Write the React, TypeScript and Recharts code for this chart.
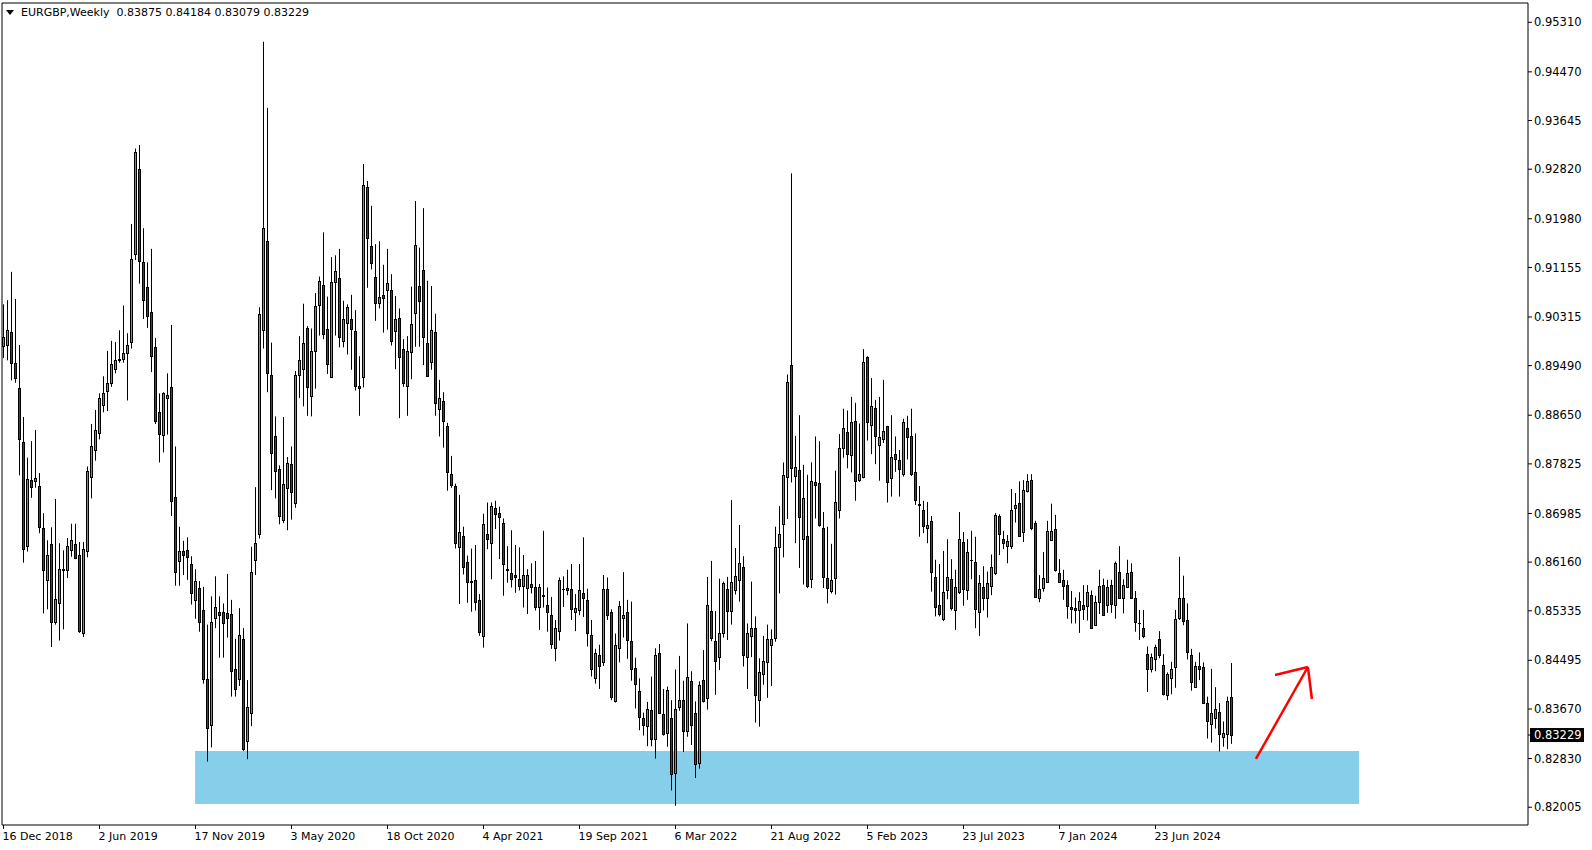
import React from 'react';
import { ComposedChart, Bar, XAxis, YAxis, ReferenceArea, ReferenceLine } from 'recharts';

// EURGBP weekly candles (16 Dec 2018 .. early Nov 2024)
const opens = [
  .8982, .8984, .9006, .8953, .8911, .8820, .8644, .8756, .8753, .8745,
  .8674, .8586, .8647, .8515, .8546, .8605, .8602, .8637, .8647, .8628,
  .8496, .8635, .8760, .8806, .8835, .8882, .8906, .8920, .8943, .8958,
  .8960, .8971, .8989, .9139, .9282, .9125, .9082, .9040, .8981, .8870,
  .8832, .8895, .8912, .8726, .8618, .8635, .8636, .8612, .8552, .8572,
  .8534, .8418, .8340, .8521, .8532, .8531, .8529, .8528, .8434, .8418,
  .8486, .8312, .8361, .8620, .8664, .9010, .9160, .8934, .8830, .8774,
  .8688, .8742, .8782, .8716, .8934, .8944, .9013, .8897, .8973, .9051,
  .9086, .9011, .8930, .9090, .9097, .8990, .9021, .9028, .9008, .8914,
  .8929, .9251, .9151, .9099, .9055, .9068, .9078, .9078, .9007, .9029,
  .8977, .8915, .8972, .9038, .9084, .9111, .8987, .8956, .9006, .8875,
  .8889, .8847, .8765, .8745, .8641, .8660, .8617, .8584, .8586, .8552,
  .8490, .8664, .8649, .8707, .8700, .8682, .8604, .8597, .8594, .8588,
  .8576, .8572, .8579, .8574, .8540, .8560, .8544, .8526, .8471, .8500,
  .8570, .8572, .8570, .8532, .8534, .8563, .8551, .8492, .8420, .8458,
  .8446, .8570, .8532, .8381, .8471, .8522, .8531, .8483, .8436, .8398,
  .8351, .8339, .8366, .8316, .8462, .8359, .8327, .8351, .8259, .8370,
  .8382, .8329, .8415, .8361, .8275, .8417, .8385, .8533, .8482, .8456,
  .8496, .8571, .8533, .8568, .8586, .8607, .8456, .8491, .8505, .8382,
  .8426, .8447, .8476, .8488, .8642, .8680, .8760, .8950, .8762, .8772,
  .8656, .8660, .8587, .8752, .8750, .8674, .8589, .8567, .8589, .8704,
  .8809, .8836, .8797, .8856, .8756, .8760, .8963, .8849, .8878, .8815,
  .8824, .8846, .8758, .8799, .8789, .8765, .8844, .8829, .8769, .8714,
  .8705, .8673, .8686, .8590, .8543, .8520, .8569, .8587, .8534, .8566,
  .8650, .8568, .8620, .8616, .8532, .8573, .8555, .8576, .8597, .8694,
  .8656, .8643, .8644, .8707, .8716, .8667, .8737, .8755, .8682, .8556,
  .8572, .8583, .8653, .8672, .8597, .8585, .8578, .8540, .8538, .8534,
  .8543, .8542, .8560, .8509, .8549, .8578, .8543, .8577, .8543, .8600,
  .8556, .8573, .8600, .8556, .8513, .8505, .8460, .8435, .8451, .8485,
  .8441, .8390, .8419, .8438, .8522, .8555, .8518, .8458, .8405, .8440,
  .8438, .8377, .8341, .8351, .8362, .8320, .8324, .83875,
];

const highs = [
  .9053, .9060, .9108, .9062, .8984, .8862, .8793, .8821, .8840, .8767,
  .8699, .8653, .8675, .8723, .8648, .8636, .8657, .8681, .8681, .8650,
  .8650, .8778, .8850, .8874, .8902, .8931, .8974, .8991, .8989, .9009,
  .9051, .9004, .9189, .9317, .9323, .9182, .9124, .9147, .8996, .8902,
  .8904, .8936, .9018, .8812, .8676, .8652, .8658, .8626, .8604, .8584,
  .8574, .8510, .8558, .8592, .8558, .8546, .8596, .8552, .8486, .8538,
  .8504, .8416, .8642, .8743, .9048, .9498, .9386, .8988, .8863, .8780,
  .8862, .8794, .8812, .8940, .8999, .9054, .9016, .9012, .9072, .9100,
  .9175, .9066, .9133, .9136, .9147, .9059, .9053, .9069, .9043, .8965,
  .9291, .9262, .9220, .9155, .9160, .9120, .9147, .9104, .9067, .9046,
  .8994, .8999, .9083, .9228, .9149, .9216, .9093, .9084, .9037, .8925,
  .8904, .8852, .8796, .8749, .8730, .8676, .8627, .8639, .8645, .8562,
  .8698, .8717, .8717, .8720, .8710, .8690, .8643, .8670, .8645, .8641,
  .8628, .8604, .8614, .8618, .8579, .8669, .8573, .8557, .8518, .8590,
  .8592, .8603, .8613, .8562, .8613, .8658, .8571, .8518, .8469, .8476,
  .8594, .8590, .8536, .8495, .8550, .8599, .8552, .8549, .8454, .8419,
  .8361, .8379, .8422, .8470, .8477, .8401, .8405, .8382, .8434, .8457,
  .8415, .8512, .8431, .8380, .8414, .8467, .8591, .8618, .8533, .8588,
  .8583, .8591, .8721, .8640, .8679, .8626, .8512, .8583, .8524, .8453,
  .8491, .8510, .8502, .8676, .8711, .8785, .8934, .9275, .8830, .8865,
  .8781, .8764, .8785, .8829, .8821, .8701, .8676, .8647, .8771, .8833,
  .8876, .8873, .8896, .8886, .8851, .8977, .8965, .8928, .8891, .8896,
  .8925, .8847, .8865, .8829, .8806, .8859, .8864, .8876, .8834, .8745,
  .8720, .8718, .8694, .8620, .8613, .8635, .8655, .8621, .8603, .8701,
  .8667, .8655, .8669, .8659, .8594, .8609, .8600, .8629, .8699, .8697,
  .8669, .8662, .8740, .8733, .8753, .8755, .8765, .8765, .8686, .8594,
  .8633, .8686, .8715, .8696, .8621, .8603, .8585, .8567, .8556, .8565,
  .8577, .8577, .8568, .8559, .8603, .8588, .8586, .8586, .8617, .8643,
  .8587, .8620, .8614, .8567, .8535, .8535, .8473, .8461, .8476, .8499,
  .8460, .8429, .8447, .8535, .8625, .8593, .8546, .8469, .8447, .8463,
  .8446, .8388, .8435, .8404, .8377, .8346, .8388, .8445,
];

const lows = [
  .8962, .8958, .8924, .8920, .8763, .8615, .8634, .8725, .8742, .8665,
  .8529, .8536, .8472, .8510, .8483, .8502, .8589, .8625, .8621, .8496,
  .8489, .8624, .8724, .8788, .8824, .8870, .8872, .8913, .8936, .8954,
  .8954, .8890, .8978, .9128, .9088, .9028, .9013, .8938, .8850, .8785,
  .8802, .8832, .8694, .8576, .8576, .8594, .8586, .8544, .8520, .8498,
  .8410, .8278, .8302, .8504, .8454, .8454, .8488, .8388, .8388, .8406,
  .8296, .8282, .8338, .8594, .8656, .8978, .8904, .8738, .8724, .8680,
  .8682, .8670, .8688, .8708, .8894, .8880, .8864, .8863, .8910, .9000,
  .8994, .8935, .8928, .9000, .8980, .8980, .8968, .8942, .8907, .8864,
  .8912, .9081, .9112, .9025, .9046, .9005, .9010, .8983, .8943, .8860,
  .8913, .8864, .8926, .8981, .8981, .8950, .8930, .8942, .8864, .8829,
  .8810, .8737, .8742, .8639, .8545, .8595, .8547, .8532, .8534, .8491,
  .8471, .8638, .8587, .8672, .8621, .8559, .8581, .8573, .8564, .8568,
  .8539, .8528, .8563, .8534, .8501, .8539, .8498, .8469, .8448, .8483,
  .8540, .8560, .8518, .8499, .8526, .8523, .8473, .8422, .8410, .8401,
  .8440, .8518, .8382, .8378, .8446, .8488, .8452, .8415, .8368, .8331,
  .8322, .8304, .8304, .8283, .8359, .8322, .8303, .8229, .8203, .8364,
  .8294, .8320, .8306, .8250, .8266, .8378, .8366, .8482, .8391, .8433,
  .8488, .8484, .8510, .8561, .8549, .8439, .8401, .8455, .8344, .8337,
  .8408, .8386, .8406, .8481, .8563, .8624, .8689, .8751, .8648, .8606,
  .8578, .8572, .8572, .8690, .8676, .8572, .8546, .8563, .8561, .8690,
  .8793, .8775, .8768, .8720, .8752, .8758, .8822, .8799, .8782, .8754,
  .8818, .8717, .8727, .8769, .8727, .8761, .8790, .8762, .8713, .8659,
  .8665, .8648, .8566, .8524, .8524, .8516, .8553, .8534, .8501, .8562,
  .8542, .8552, .8587, .8504, .8491, .8534, .8522, .8560, .8594, .8628,
  .8638, .8614, .8638, .8683, .8659, .8650, .8734, .8670, .8555, .8548,
  .8566, .8582, .8652, .8600, .8581, .8552, .8520, .8512, .8512, .8496,
  .8518, .8517, .8503, .8508, .8528, .8525, .8530, .8530, .8520, .8555,
  .8529, .8572, .8554, .8498, .8484, .8487, .8396, .8429, .8431, .8453,
  .8390, .8382, .8392, .8403, .8518, .8509, .8451, .8398, .8403, .8416,
  .8377, .8317, .8310, .8334, .8295, .8303, .8299, .83079,
];

const closes = [
  .8997, .9009, .8954, .8928, .8824, .8639, .8757, .8744, .8758, .8676,
  .8602, .8628, .8515, .8553, .8604, .8602, .8643, .8653, .8623, .8500,
  .8638, .8770, .8813, .8840, .8894, .8903, .8920, .8952, .8958, .8960,
  .8970, .8984, .9129, .9311, .9127, .9060, .9033, .8966, .8855, .8833,
  .8902, .8900, .8720, .8600, .8635, .8628, .8624, .8564, .8584, .8514,
  .8418, .8334, .8515, .8540, .8526, .8512, .8522, .8432, .8401, .8492,
  .8300, .8370, .8600, .8649, .9036, .9182, .8936, .8801, .8770, .8694,
  .8748, .8784, .8734, .8934, .8958, .8988, .8912, .8973, .9050, .9093,
  .9002, .8951, .9090, .9109, .8998, .9028, .9049, .9011, .8915, .8911,
  .9255, .9165, .9123, .9055, .9065, .9064, .9089, .8990, .9028, .8963,
  .8920, .8973, .9019, .9153, .9058, .8997, .8932, .9009, .8885, .8894,
  .8856, .8769, .8746, .8649, .8667, .8608, .8583, .8583, .8548, .8498,
  .8681, .8655, .8711, .8697, .8693, .8612, .8603, .8588, .8590, .8576,
  .8594, .8594, .8573, .8540, .8574, .8559, .8532, .8477, .8504, .8586,
  .8570, .8568, .8537, .8538, .8568, .8556, .8496, .8435, .8462, .8440,
  .8570, .8527, .8388, .8475, .8541, .8527, .8484, .8435, .8410, .8354,
  .8340, .8367, .8316, .8459, .8361, .8325, .8400, .8256, .8367, .8382,
  .8329, .8421, .8340, .8273, .8407, .8380, .8544, .8488, .8449, .8495,
  .8580, .8533, .8583, .8593, .8614, .8459, .8496, .8505, .8391, .8429,
  .8448, .8486, .8486, .8642, .8664, .8764, .8921, .8775, .8778, .8693,
  .8724, .8576, .8753, .8746, .8679, .8590, .8572, .8585, .8718, .8809,
  .8844, .8800, .8853, .8753, .8765, .8955, .8853, .8880, .8830, .8828,
  .8838, .8752, .8794, .8791, .8773, .8853, .8828, .8765, .8721, .8712,
  .8678, .8679, .8599, .8540, .8528, .8565, .8590, .8539, .8573, .8655,
  .8570, .8633, .8619, .8536, .8580, .8556, .8580, .8607, .8696, .8663,
  .8648, .8651, .8705, .8712, .8660, .8738, .8753, .8673, .8557, .8570,
  .8589, .8669, .8668, .8602, .8583, .8576, .8542, .8537, .8535, .8550,
  .8537, .8565, .8505, .8548, .8575, .8526, .8573, .8545, .8614, .8556,
  .8577, .8598, .8556, .8514, .8512, .8490, .8434, .8456, .8472, .8458,
  .8392, .8427, .8435, .8519, .8555, .8516, .8464, .8413, .8440, .8435,
  .8378, .8346, .8360, .8367, .8324, .8327, .8381, .83229,
];

// time axis labels every 24 weeks
const tickWeeks = [0, 24, 48, 72, 96, 120, 144, 168, 192, 216, 240, 264, 288];
const tickLabels = [
  '16 Dec 2018', '2 Jun 2019', '17 Nov 2019', '3 May 2020', '18 Oct 2020', '4 Apr 2021',
  '19 Sep 2021', '6 Mar 2022', '21 Aug 2022', '5 Feb 2023', '23 Jul 2023', '7 Jan 2024', '23 Jun 2024',
];

const priceLevels = [
  0.9531, 0.9447, 0.93645, 0.9282, 0.9198, 0.91155, 0.90315, 0.8949, 0.8865,
  0.87825, 0.86985, 0.8616, 0.85335, 0.84495, 0.8367, 0.8283, 0.82005,
];
const lastPrice = 0.83229;
const headerText = 'EURGBP,Weekly  0.83875 0.84184 0.83079 0.83229';

// drawn annotations (week index / price)
const xDomain = [-0.375, 381.125];
const yDomain = [0.81704, 0.95637];
const supportZone = { x1: 47.9, x2: 338.9, y1: 0.8206, y2: 0.8296 };
const arrowShaft = [{ x: 313.1, y: 0.82823 }, { x: 326.1, y: 0.84382 }];
const arrowBarbA = [{ x: 317.9, y: 0.84247 }, { x: 326.1, y: 0.84382 }];
const arrowBarbB = [{ x: 327.1, y: 0.8384 }, { x: 326.1, y: 0.84382 }];

const UP = '#14d814';
const DOWN = '#e00000';
const FONT = '"DejaVu Sans", Tahoma, sans-serif';

const data = opens.map((o, i) => ({
  week: i,
  o,
  h: highs[i],
  l: lows[i],
  c: closes[i],
  range: [lows[i], highs[i]],
}));

const Candle = (props: any) => {
  const { x, y, width, height, payload } = props;
  if (x == null || !payload) return null;
  const { o, h, l, c } = payload;
  const top = Math.min(y, y + height);
  const span = Math.abs(height);
  const yOf = (v: number) => (h === l ? top : top + ((h - v) / (h - l)) * span);
  const cx = Math.floor(x + width / 2) + 0.5;
  const bTop = Math.round(yOf(Math.max(o, c))) + 0.5;
  const bBot = Math.round(yOf(Math.min(o, c))) + 0.5;
  return (
    <g>
      <line x1={cx} x2={cx} y1={top} y2={top + span} stroke="#000" strokeWidth={1} />
      {bBot - bTop < 1 ? (
        <line x1={cx - 1.5} x2={cx + 1.5} y1={bTop} y2={bTop} stroke="#000" strokeWidth={1} />
      ) : (
        <rect x={cx - 1} y={bTop} width={2} height={bBot - bTop} fill={c >= o ? UP : DOWN} stroke="#000" strokeWidth={1} />
      )}
    </g>
  );
};

const DateTick = ({ x, y, payload }: any) => (
  <text x={x - 1} y={y} dy={10} fontSize={11} fontFamily={FONT} fill="#000" textAnchor="start">
    {tickLabels[tickWeeks.indexOf(payload.value)]}
  </text>
);

const PriceTick = ({ x, y, payload }: any) => {
  const v = payload.value;
  const label = v.toFixed(5);
  if (v === lastPrice) {
    return (
      <g>
        <rect x={x - 5} y={y - 7} width={54} height={14} fill="#000" />
        <text x={x - 1} y={y} dy="0.36em" fontSize={11.5} fontFamily={FONT} fill="#fff">{label}</text>
      </g>
    );
  }
  return (
    <text x={x - 1} y={y} dy="0.36em" fontSize={11.5} fontFamily={FONT} fill="#000">{label}</text>
  );
};

export default function App() {
  return (
    <div style={{ position: 'absolute', left: 0, top: 0, width: 1592, height: 850, background: '#fff', fontFamily: FONT }}>
      <ComposedChart width={1592} height={850} data={data} margin={{ top: 3, right: 0, bottom: 0, left: 2 }}>
        <XAxis
          dataKey="week"
          type="number"
          domain={xDomain}
          ticks={tickWeeks}
          interval={0}
          height={25}
          axisLine={false}
          tickLine={{ stroke: '#000' }}
          tickSize={4}
          tickMargin={1}
          tick={DateTick}
          allowDataOverflow
        />
        <YAxis
          orientation="right"
          type="number"
          domain={yDomain}
          ticks={[...priceLevels, lastPrice]}
          interval={0}
          width={64}
          axisLine={false}
          tickLine={{ stroke: '#000' }}
          tickSize={4}
          tickMargin={3}
          tick={PriceTick}
          allowDataOverflow
        />
        <ReferenceArea {...supportZone} fill="#87ceeb" fillOpacity={1} stroke="none" />
        <Bar dataKey="range" shape={Candle} barSize={3} isAnimationActive={false} />
        <ReferenceLine segment={arrowShaft} stroke="#ff0000" strokeWidth={2.5} />
        <ReferenceLine segment={arrowBarbA} stroke="#ff0000" strokeWidth={2.5} />
        <ReferenceLine segment={arrowBarbB} stroke="#ff0000" strokeWidth={2.5} />
        <ReferenceArea x1={xDomain[0]} x2={xDomain[1]} y1={yDomain[0]} y2={yDomain[1]} fill="none" stroke="#000" strokeWidth={1} />
      </ComposedChart>
      <div
        style={{
          position: 'absolute', left: 6, top: 10, width: 0, height: 0,
          borderLeft: '4px solid transparent', borderRight: '4px solid transparent', borderTop: '5px solid #000',
        }}
      />
      <div style={{ position: 'absolute', left: 21, top: 6, fontSize: 11, lineHeight: '13px', whiteSpace: 'pre', color: '#000' }}>
        {headerText}
      </div>
    </div>
  );
}
